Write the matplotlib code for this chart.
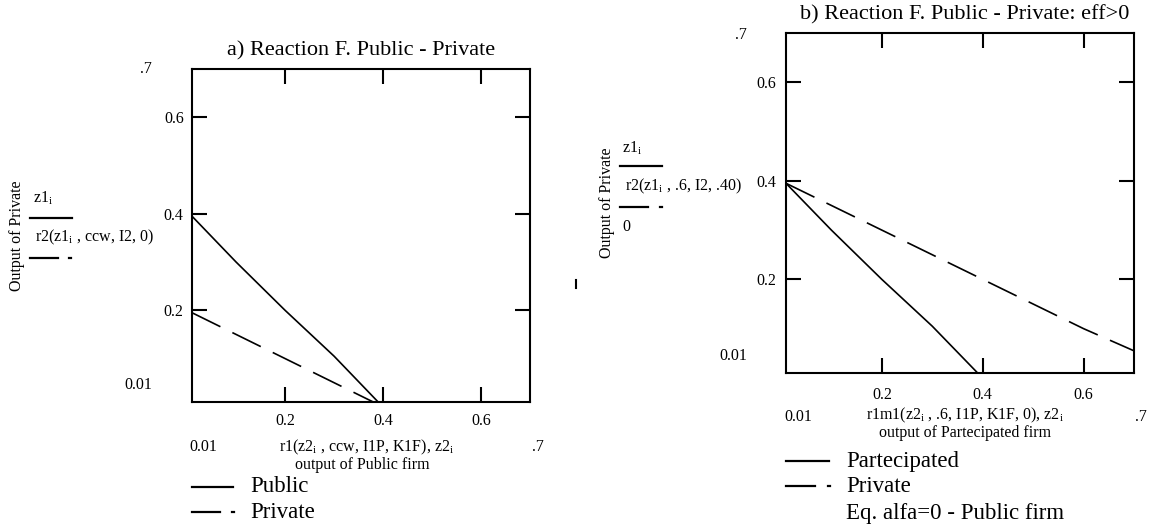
import matplotlib
matplotlib.use("Agg")
import matplotlib.pyplot as plt
import matplotlib.transforms as mtransforms
from matplotlib.lines import Line2D

plt.rcParams['font.family'] = 'Liberation Serif'
plt.rcParams['mathtext.fontset'] = 'custom'
plt.rcParams['mathtext.rm'] = 'Liberation Serif'
plt.rcParams['mathtext.it'] = 'Liberation Serif:italic'

# panel a) public vs private
pub_x = [0.01, 0.1, 0.2, 0.3, 0.39]
pub_y = [0.395, 0.30, 0.20, 0.105, 0.01]
priv_x = [0.01, 0.1, 0.2, 0.3, 0.38]
priv_y = [0.195, 0.15, 0.10, 0.05, 0.01]

# panel b) partecipated vs private, eff>0
part_x = [0.01, 0.1, 0.2, 0.3, 0.39]
part_y = [0.395, 0.30, 0.20, 0.105, 0.01]
priv2_x = [0.01, 0.2, 0.4, 0.6, 0.7]
priv2_y = [0.395, 0.30, 0.20, 0.10, 0.055]

ticks = [0.2, 0.4, 0.6]
tick_labels = ['0.2', '0.4', '0.6']
lims = (0.01, 0.7)

W, H = 1155, 530
fig = plt.figure(figsize=(W / 100, H / 100), dpi=100)


def px(x, y, s, **kw):
    # text placed in pixel coords of the figure (top-left origin)
    kw.setdefault('fontsize', 11.5)
    kw.setdefault('va', 'center')
    fig.text(x / W, 1 - y / H, s, **kw)


def pline(x0, x1, y):
    fig.add_artist(Line2D([x0 / W, x1 / W], [1 - y / H, 1 - y / H],
                          color='black', linewidth=1.6))


def setup(ax):
    ax.set_xlim(*lims)
    ax.set_ylim(*lims)
    ax.set_xticks(ticks)
    ax.set_xticklabels(tick_labels)
    ax.set_yticks(ticks)
    ax.set_yticklabels(tick_labels)
    ax.tick_params(direction='in', length=11, width=1.5, top=True, right=True,
                   labelsize=11.5)
    for sp in ax.spines.values():
        sp.set_linewidth(1.5)
    # Mathcad puts the tick numbers a little right / below the tick
    shift_x = mtransforms.ScaledTranslation(4 / 100, 0, fig.dpi_scale_trans)
    shift_y = mtransforms.ScaledTranslation(0, -4 / 100, fig.dpi_scale_trans)
    for lab in ax.get_xticklabels():
        lab.set_transform(lab.get_transform() + shift_x)
    for lab in ax.get_yticklabels():
        lab.set_transform(lab.get_transform() + shift_y)


dash = (19, 8)
sub_i = r'$_\mathrm{i}$'

# ---- panel a
ax1 = fig.add_axes([192 / W, 1 - 402 / H, 338 / W, 333 / H])
setup(ax1)
ax1.tick_params(axis='x', pad=8)
ax1.tick_params(axis='y', pad=6)
ax1.plot(pub_x, pub_y, color='black', linewidth=1.2)
ax1.plot(priv_x, priv_y, color='black', linewidth=1.2, dashes=dash)

px(361, 51, 'a) Reaction F. Public - Private', fontsize=16, ha='center')
px(152, 69, '.7', ha='right')
px(152, 385, '0.01', ha='right')
px(17, 236, 'Output of Private', rotation=90, ha='center')
px(33, 198, 'z1' + sub_i)
pline(30, 72, 218)
px(35, 237, 'r2(z1' + sub_i + ' , ccw, I2, 0)')
pline(30, 58, 258)
pline(69, 71, 258)
px(203, 447, '0.01', ha='center')
px(367, 447, 'r1(z2' + sub_i + ' , ccw, I1P, K1F), z2' + sub_i, ha='center')
px(362, 465, 'output of Public firm', ha='center')
px(538, 447, '.7', ha='center')
pline(192, 233, 487)
px(250, 487, 'Public', fontsize=16.5)
pline(192, 220, 512)
pline(232, 234, 512)
px(250, 513, 'Private', fontsize=16.5)
fig.add_artist(Line2D([576 / W, 576 / W], [1 - 280 / H, 1 - 288 / H],
                      color='black', linewidth=1.5))

# ---- panel b
ax2 = fig.add_axes([786 / W, 1 - 373 / H, 348 / W, 340 / H])
setup(ax2)
ax2.tick_params(axis='x', pad=10)
ax2.tick_params(axis='y', pad=7)
ax2.plot(part_x, part_y, color='black', linewidth=1.2)
ax2.plot(priv2_x, priv2_y, color='black', linewidth=1.2, dashes=dash)

px(965, 15, 'b) Reaction F. Public - Private: eff>0', fontsize=16, ha='center')
px(747, 35, '.7', ha='right')
px(747, 356, '0.01', ha='right')
px(607, 203, 'Output of Private', rotation=90, ha='center')
px(622, 148, 'z1' + sub_i)
pline(620, 662, 166)
px(625, 186, 'r2(z1' + sub_i + ' , .6, I2, .40)')
pline(620, 648, 207)
pline(660, 662, 207)
px(622, 227, '0')
px(798, 417, '0.01', ha='center')
px(965, 415, 'r1m1(z2' + sub_i + ' , .6, I1P, K1F, 0), z2' + sub_i, ha='center')
px(965, 433, 'output of Partecipated firm', ha='center')
px(1141, 417, '.7', ha='center')
pline(786, 829, 461)
px(846, 461, 'Partecipated', fontsize=16.5)
pline(786, 815, 486)
pline(828, 830, 486)
px(846, 487, 'Private', fontsize=16.5)
px(846, 514, 'Eq. alfa=0 - Public firm', fontsize=16.5)

fig.savefig('out.png', dpi=100)
